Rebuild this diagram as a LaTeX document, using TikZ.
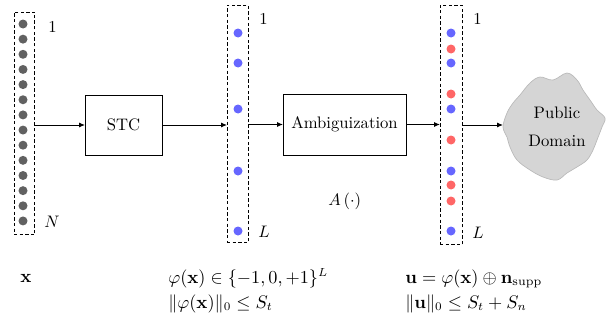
\documentclass[tikz,border=0pt]{standalone}
\usepackage{amsmath,amssymb}
\usetikzlibrary{arrows.meta}
\begin{document}
\begin{tikzpicture}[x=0.6pt,y=-0.6pt,
  colbox/.style={draw, line width=0.6pt, dash pattern=on 2pt off 1.4pt, inner sep=0pt, outer sep=0pt},
  blockbox/.style={draw, line width=0.6pt, inner sep=0pt, outer sep=0pt},
  arr/.style={line width=0.6pt, -{Latex[length=3.5pt,width=3pt]}},
  lbl/.style={anchor=base west, inner sep=0pt},
  eq/.style={anchor=base west, inner sep=0pt, font=\fontsize{10.5pt}{12.6pt}\selectfont},
  gdot/.style={fill=black!62},
  bdot/.style={fill=blue!60},
  rdot/.style={fill=red!60}]
\useasboundingbox (0,0) rectangle (610,331);

% columns
\node[colbox, minimum width=12.6pt, minimum height=133.8pt] (colL) at (24.5,123.5) {};
\node[colbox, minimum width=12.6pt, minimum height=142.8pt] (colM) at (237.5,124) {};
\node[colbox, minimum width=13.2pt, minimum height=144pt] (colR) at (451,125) {};

% left dots
\foreach \i in {0,...,13}{
  \fill[gdot] (23,{24+\i*15.15}) circle[radius=2.7pt];
}
% middle dots
\foreach \y in {33,63,109,171,231}{
  \fill[bdot] (238,\y) circle[radius=2.7pt];
}
% right dots
\foreach \y in {33,63,109,171,231}{
  \fill[bdot] (451,\y) circle[radius=2.7pt];
}
\foreach \y in {49,94,140,185,201}{
  \fill[rdot] (451,\y) circle[radius=2.7pt];
}

% index labels
\node[lbl] (l1) at (48,32) {$1$};
\node[lbl] (lN) at (44,227) {$N$};
\node[lbl] (m1) at (259,25) {$1$};
\node[lbl] (mL) at (258,237) {$L$};
\node[lbl] (r1) at (473,25) {$1$};
\node[lbl] (rL) at (472,238) {$L$};

% blocks
\node[blockbox, minimum width=46.2pt, minimum height=36pt] (stc) at (123.5,125) {STC};
\node[blockbox, minimum width=73.8pt, minimum height=36.6pt] (amb) at (344.5,124.5) {Ambiguization};

% cloud
\draw[fill=gray!33, draw=gray!55, line width=0.4pt]
  plot[smooth cycle, tension=0.6] coordinates {
   (530,83) (540,77) (553,80) (567,73) (577,80) (583,90) (590,100) (597,110)
   (605,118) (602,127) (597,140) (593,150) (587,160) (577,167) (567,173)
   (557,180) (543,177) (530,170) (517,160) (510,147) (507,137) (503,127)
   (507,113) (513,103) (520,95)};
\node[align=center, inner sep=0pt] (cloud) at (557,127) {Public\\[5pt]Domain};
\coordinate (cloudW) at (503,125);

% connectors
\draw[arr] (colL.east |- stc.west) -- (stc.west);
\draw[arr] (stc.east) -- (colM.west |- stc.east);
\draw[arr] (colM.east |- amb.west) -- (amb.west);
\draw[arr] (amb.east) -- (colR.west |- amb.east);
\draw[arr] (colR.east |- cloudW) -- (cloudW);

% annotations
\node[lbl] (aop) at (328,205) {$A\left(\cdot\right)$};
\node[eq] (tx) at (20,282) {$\mathbf{x}$};
\node[eq] (tphi) at (168,283) {$\varphi(\mathbf{x}) \in \{-1,0,+1\}^L$};
\node[eq] (tphin) at (168,308) {$\|\varphi(\mathbf{x})\|_0 \leq S_t$};
\node[eq] (tu) at (405,283) {$\mathbf{u} = \varphi(\mathbf{x}) \oplus \mathbf{n}_{\text{supp}}$};
\node[eq] (tun) at (405,308) {$\|\mathbf{u}\|_0 \leq S_t + S_n$};
\end{tikzpicture}
\end{document}
